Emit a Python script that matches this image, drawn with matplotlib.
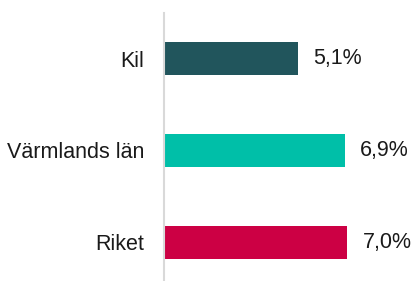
import matplotlib.pyplot as plt

plt.rcParams['font.family'] = ['Liberation Sans', 'DejaVu Sans']

# Data
regions = ['Kil', 'Värmlands län', 'Riket']
values = [5.1, 6.9, 7.0]
value_labels = ['5,1%', '6,9%', '7,0%']
colors = ['#21555c', '#00bfa8', '#cc0044']

fig = plt.figure(figsize=(4.14, 2.81), dpi=100)
ax = fig.add_axes([164 / 414, 0, 250 / 414, 1 - 13 / 281])

positions = list(range(len(regions)))
ax.barh(positions, values, height=0.36, color=colors)

for pos, val, label in zip(positions, values, value_labels):
    ax.text(val + 0.58, pos, label, va='center', ha='left', fontsize=15.5, color='#1a1a1a')

ax.set_yticks(positions)
ax.set_yticklabels(regions, fontsize=15.5, color='#1a1a1a')
ax.tick_params(axis='y', length=0, pad=14)
ax.set_xticks([])
ax.set_xlim(0, 250 / 26.2)
ax.set_ylim(2.42, -0.495)

for side in ['top', 'right', 'bottom']:
    ax.spines[side].set_visible(False)
ax.spines['left'].set_color('#d9d9d9')
ax.spines['left'].set_linewidth(1.5)

fig.savefig('out.png', dpi=100)
